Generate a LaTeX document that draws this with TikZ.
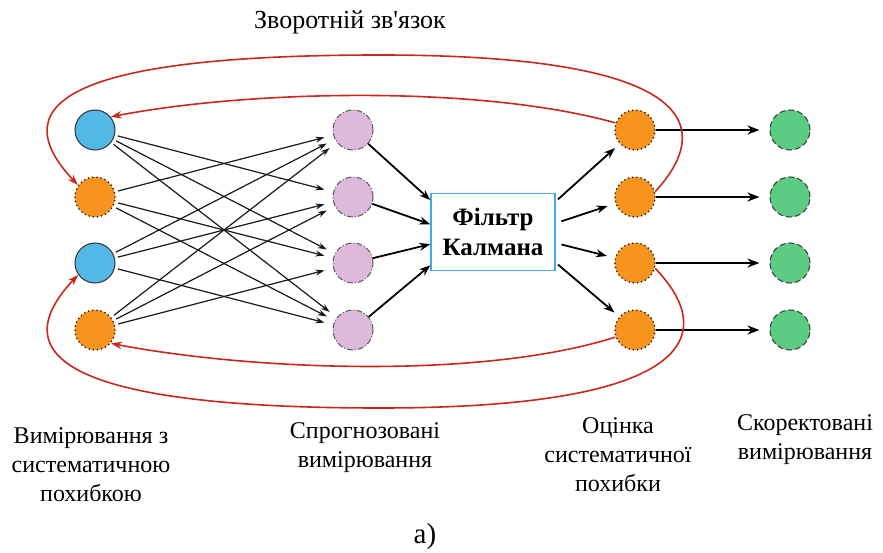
\documentclass[tikz,border=0pt]{standalone}
\usepackage{fontspec}
\usepackage{graphicx}
\setmainfont{Liberation Serif}
\newfontfamily\plainserif{Liberation Serif}
\usetikzlibrary{arrows.meta}
\definecolor{bluef}{RGB}{82,184,230}
\definecolor{orangef}{RGB}{247,148,30}
\definecolor{pinkf}{RGB}{221,185,220}
\definecolor{greenf}{RGB}{92,203,131}
\definecolor{boxb}{RGB}{66,168,240}
\definecolor{redc}{RGB}{200,40,30}
\begin{document}
\begin{tikzpicture}[x=1pt,y=-1pt,
  nd/.style={circle,minimum size=40pt,inner sep=0pt,line width=0.9pt},
  bluen/.style={nd,fill=bluef,draw=black!80,line width=1pt},
  orangen/.style={nd,fill=orangef,draw=black!90,line width=1.8pt,line cap=round,dash pattern=on 0pt off 4.2pt},
  pinkn/.style={nd,fill=pinkf,draw=black!65,line width=1pt,dash pattern=on 6pt off 2pt on 1pt off 2pt},
  greenn/.style={nd,fill=greenf,draw=black!75,line width=1.1pt,dash pattern=on 6pt off 3pt},
  kbox/.style={draw=boxb,fill=white,line width=1.4pt,minimum width=124pt,minimum height=77pt,align=center,font=\fontsize{25}{30}\selectfont\bfseries},
  lbl/.style={align=center,font=\fontsize{24}{29}\selectfont},
  thin/.style={draw=black!90,line width=1.2pt,-{Stealth[length=9pt,width=6pt]},shorten <=3pt,shorten >=9pt},
  mid/.style={draw=black,line width=1.8pt,-{Stealth[length=11pt,width=8pt]}},
  thick/.style={draw=black,line width=2.6pt,-{Stealth[length=12pt,width=9pt]}},
  fb/.style={draw=redc,line width=1.6pt},
  fba/.style={fb,-{Stealth[length=11pt,width=7.5pt]}}
]
\useasboundingbox (0,0) rectangle (883,553);

% nodes
\node[bluen] (l1) at (95,130) {};
\node[orangen] (l2) at (95,197) {};
\node[bluen] (l3) at (95,263) {};
\node[orangen] (l4) at (95,330) {};

\node[pinkn] (p1) at (353,130) {};
\node[pinkn] (p2) at (353,197) {};
\node[pinkn] (p3) at (353,263) {};
\node[pinkn] (p4) at (353,330) {};

\node[kbox] (k) at (493,232) {Фільтр\\Калмана};

\node[orangen] (r1) at (635,130) {};
\node[orangen] (r2) at (635,197) {};
\node[orangen] (r3) at (635,263) {};
\node[orangen] (r4) at (635,330) {};

\node[greenn] (g1) at (790,130) {};
\node[greenn] (g2) at (790,197) {};
\node[greenn] (g3) at (790,263) {};
\node[greenn] (g4) at (790,330) {};

% left to pink
\foreach \i in {1,2,3,4}{
  \foreach \j in {1,2,3,4}{
    \ifnum\i=\j\else
      \draw[thin] (l\i) -- (p\j);
    \fi
  }
}

% pink to box
\draw[mid] (p1) -- (k.153);
\draw[mid] (p2) -- (k.173);
\draw[mid] (p3) -- (k.191);
\draw[mid] (p4) -- (k.208);

% box to orange
\draw[mid,shorten <=3pt,shorten >=6pt] (k.26) -- (r1);
\draw[mid,shorten <=6pt,shorten >=8pt] (k.8) -- (r2);
\draw[mid,shorten <=6pt,shorten >=8pt] (k.-10) -- (r3);
\draw[mid,shorten <=3pt,shorten >=6pt] (k.-26) -- (r4);

% orange to green
\draw[thick,shorten >=10pt] (r1) -- (g1);
\draw[thick,shorten >=10pt] (r2) -- (g2);
\draw[thick,line width=1.9pt,shorten >=10pt] (r3) -- (g3);
\draw[thick,line width=1.9pt,shorten >=10pt] (r4) -- (g4);

% feedback
\draw[fba] (r2.15) .. controls (712,130) and (705,55) .. (380,55)
  .. controls (80,55) and (-2,100) .. (l2.145);
\draw[fba] (r1.160) .. controls (480,85) and (250,90) .. (l1.40);
\draw[fba] (r4.200) .. controls (480,380) and (250,370) .. (l4.-40);
\draw[fba] (r3.-15) .. controls (715,330) and (705,408) .. (380,408)
  .. controls (80,408) and (-2,360) .. (l3.-145);

% labels
\node[lbl,font=\plainserif\fontsize{26}{30}\selectfont] (t) at (350,22) {Зворотній зв'язок};
\node[lbl] (a) at (91,465) {Вимірювання з\\систематичною\\похибкою};
\node[lbl] (b) at (365,448) {Спрогнозовані\\вимірювання};
\node[lbl] (c) at (618,455) {Оцінка\\систематичної\\похибки};
\node[lbl] (d) at (805,440) {Скоректовані\\вимірювання};
\node[lbl,font=\fontsize{29}{30}\selectfont] (e) at (425,537) {а)};
\end{tikzpicture}
\end{document}
